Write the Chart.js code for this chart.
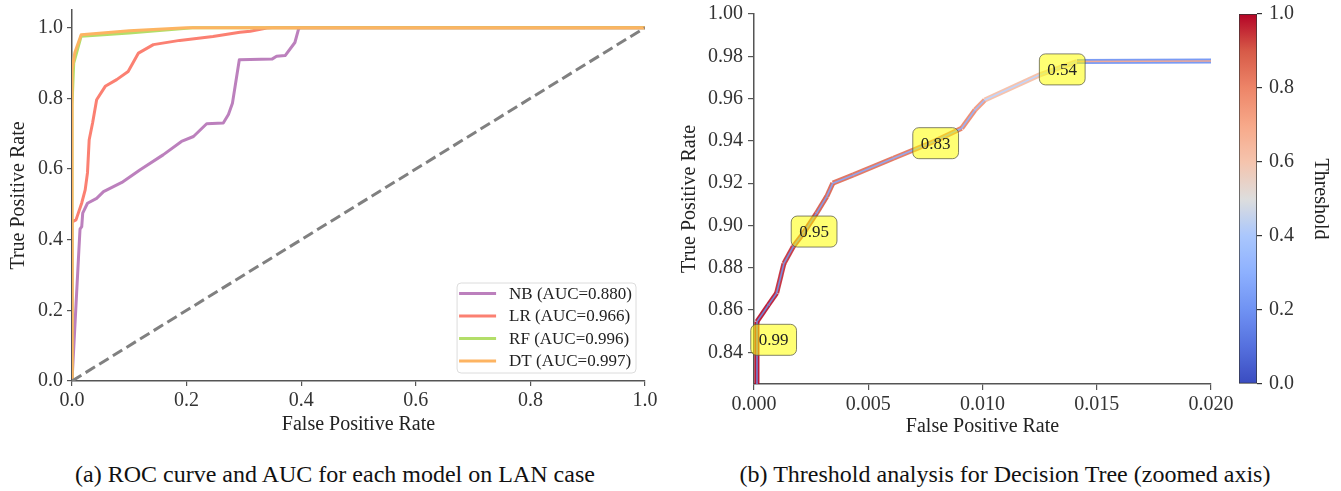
<!DOCTYPE html>
<html>
<head>
<meta charset="utf-8">
<script src="https://cdn.jsdelivr.net/npm/chart.js@4.4.1/dist/chart.umd.min.js"></script>
<style>
  html, body { margin:0; padding:0; background:#fff; }
  #wrap { position:relative; width:1341px; height:491px; overflow:hidden; background:#fff; }
  canvas { position:absolute; top:0; }
  .cap { position:absolute; top:461px; font-family:'Liberation Serif','DejaVu Serif',serif; font-size:24px; color:#111; white-space:nowrap; transform:translateX(-50%); }
</style>
</head>
<body>
<div id="wrap">
  <canvas id="roc" width="670" height="445" style="left:0px;width:670px;height:445px"></canvas>
  <canvas id="thr" width="575" height="445" style="left:670px;width:575px;height:445px"></canvas>
  <canvas id="cb" width="111" height="445" style="left:1230px;width:111px;height:445px"></canvas>
  <div class="cap" id="capA" style="left:335px"></div>
  <div class="cap" id="capB" style="left:1005px"></div>
</div>
<script>
// ---------------- DATA ----------------
const modelNames = ['NB', 'LR', 'RF', 'DT'];
const aucValues = [0.880, 0.966, 0.996, 0.997];

const nbFpr = [0, 0.012, 0.014, 0.017, 0.0187, 0.027, 0.043, 0.055, 0.087, 0.119, 0.159, 0.191, 0.212, 0.235, 0.264, 0.273, 0.280, 0.292, 0.349, 0.357, 0.372, 0.389, 0.395, 0.397, 1.0];
const nbTpr = [0, 0.37, 0.43, 0.437, 0.475, 0.503, 0.517, 0.536, 0.562, 0.598, 0.640, 0.678, 0.692, 0.728, 0.730, 0.754, 0.786, 0.909, 0.911, 0.919, 0.921, 0.958, 0.994, 1.0, 1.0];

const lrFpr = [0, 0, 0.007, 0.017, 0.023, 0.027, 0.030, 0.036, 0.043, 0.058, 0.078, 0.098, 0.116, 0.142, 0.188, 0.246, 0.293, 0.311, 0.340, 0.350, 1.0];
const lrTpr = [0, 0.45, 0.456, 0.504, 0.541, 0.589, 0.683, 0.731, 0.796, 0.834, 0.853, 0.876, 0.928, 0.952, 0.964, 0.975, 0.987, 0.990, 0.999, 1.0, 1.0];

const rfFpr = [0, 0, 0.003, 0.016, 0.100, 0.200, 0.210, 1.0];
const rfTpr = [0, 0.78, 0.90, 0.976, 0.985, 0.998, 1.0, 1.0];

const dtFpr = [0, 0, 0.005, 0.016, 0.100, 0.200, 1.0];
const dtTpr = [0, 0.88, 0.93, 0.980, 0.991, 1.0, 1.0];

const chanceFpr = [0, 1];
const chanceTpr = [0, 1];

const rocXTicks = [0, 0.2, 0.4, 0.6, 0.8, 1.0];
const rocYTicks = [0, 0.2, 0.4, 0.6, 0.8, 1.0];

// Decision tree threshold analysis (zoomed)
const dtzFpr = [0.00013, 0.00013, 0.00063, 0.00099, 0.00131, 0.00172, 0.00216, 0.00274, 0.00318, 0.00345, 0.00435, 0.0061, 0.00785, 0.00909, 0.00967, 0.0101, 0.0125, 0.01413, 0.021];
const dtzTpr = [0.80, 0.8545, 0.8624, 0.8680, 0.8820, 0.8900, 0.8963, 0.9058, 0.9136, 0.9200, 0.9239, 0.9318, 0.9396, 0.9460, 0.9546, 0.9593, 0.9712, 0.9775, 0.9778];
const dtzThr = [1.00, 0.99, 0.98, 0.96, 0.95, 0.94, 0.93, 0.90, 0.88, 0.86, 0.85, 0.84, 0.83, 0.80, 0.75, 0.62, 0.58, 0.20, 0.20];

const annFpr = [0.00086, 0.00263, 0.00795, 0.01349];
const annTpr = [0.8459, 0.8971, 0.9389, 0.9738];
const annLabel = ['0.99', '0.95', '0.83', '0.54'];

const thrXTicks = [0, 0.005, 0.010, 0.015, 0.020];
const thrYTicks = [0.84, 0.86, 0.88, 0.90, 0.92, 0.94, 0.96, 0.98, 1.00];
const cbTicks = [0, 0.2, 0.4, 0.6, 0.8, 1.0];

const captionA = '(a) ROC curve and AUC for each model on LAN case';
const captionB = '(b) Threshold analysis for Decision Tree (zoomed axis)';

// ---------------- STYLE ----------------
const FONT = "'Liberation Serif','DejaVu Serif',serif";
const modelColors = ['#bc80bd', '#fb8072', '#b3de69', '#fdb462'];
const AXIS = '#555';
const TXT = '#333';

const cwStops = [
  [0.0, [58, 76, 192]], [0.1, [85, 112, 222]], [0.2, [111, 146, 243]], [0.3, [141, 176, 254]],
  [0.4, [170, 199, 253]], [0.5, [221, 221, 221]], [0.6, [245, 196, 173]], [0.7, [247, 168, 137]],
  [0.8, [237, 133, 104]], [0.9, [215, 90, 72]], [1.0, [180, 4, 38]]
];
function cwRGB(t) {
  t = Math.max(0, Math.min(1, t));
  let i = 0;
  while (i < cwStops.length - 2 && t > cwStops[i + 1][0]) i++;
  const [t0, c0] = cwStops[i], [t1, c1] = cwStops[i + 1];
  const f = (t - t0) / (t1 - t0);
  return c0.map((v, k) => v + (c1[k] - v) * f);
}
function coolwarm(t, a) {
  const c = cwRGB(t).map(Math.round);
  return `rgba(${c[0]},${c[1]},${c[2]},${a === undefined ? 1 : a})`;
}
function mixWhite(t, w) {
  const c = cwRGB(t).map(v => Math.round(v * (1 - w) + 255 * w));
  return `rgb(${c[0]},${c[1]},${c[2]})`;
}

const zip = (xs, ys) => xs.map((x, i) => ({ x: x, y: ys[i] }));

function axisCommon(extra) {
  return Object.assign({
    type: 'linear',
    grid: { display: true, drawOnChartArea: false, drawTicks: true, tickLength: 5, color: AXIS, lineWidth: 1.2 },
    border: { display: true, color: AXIS, width: 1.5 },
  }, extra);
}

document.getElementById('capA').textContent = captionA;
document.getElementById('capB').textContent = captionB;

// ---------------- LEFT: ROC ----------------
const modelSeries = [[nbFpr, nbTpr], [lrFpr, lrTpr], [rfFpr, rfTpr], [dtFpr, dtTpr]];
const rocDatasets = modelSeries.map((s, i) => ({
  label: `${modelNames[i]} (AUC=${aucValues[i].toFixed(3)})`,
  data: zip(s[0], s[1]),
  borderColor: modelColors[i],
  borderWidth: 3,
  pointRadius: 0,
  tension: 0,
  borderJoinStyle: 'round',
  clip: 0,
  order: 10 - i,
  isModel: true
}));
rocDatasets.push({
  label: 'chance',
  data: zip(chanceFpr, chanceTpr),
  borderColor: '#808080',
  borderWidth: 3,
  borderDash: [11, 5],
  pointRadius: 0,
  clip: 0,
  order: 1,
  isModel: false
});

const legendPlugin = {
  id: 'insideLegend',
  afterDraw(chart) {
    const ctx = chart.ctx, area = chart.chartArea;
    const items = chart.data.datasets.filter(d => d.isModel);
    ctx.save();
    ctx.font = `17px ${FONT}`;
    const maxW = Math.max(...items.map(d => ctx.measureText(d.label).width));
    const w = 52 + maxW + 4, h = 90;
    const x0 = area.right - 9 - w, y0 = area.bottom - 8 - h;
    ctx.beginPath();
    ctx.roundRect(x0, y0, w, h, 4);
    ctx.fillStyle = 'rgba(255,255,255,0.85)';
    ctx.fill();
    ctx.strokeStyle = '#dcdcdc';
    ctx.lineWidth = 1;
    ctx.stroke();
    items.forEach((d, i) => {
      const yy = y0 + 10.5 + i * 22.5;
      ctx.beginPath();
      ctx.moveTo(x0 + 2, yy);
      ctx.lineTo(x0 + 39, yy);
      ctx.strokeStyle = d.borderColor;
      ctx.lineWidth = 3;
      ctx.stroke();
      ctx.fillStyle = '#222';
      ctx.textBaseline = 'middle';
      ctx.textAlign = 'left';
      ctx.fillText(d.label, x0 + 52, yy + 1);
    });
    ctx.restore();
  }
};

new Chart(document.getElementById('roc'), {
  type: 'line',
  data: { datasets: rocDatasets },
  plugins: [legendPlugin],
  options: {
    responsive: false, animation: false,
    layout: { padding: { left: 0, right: 25, top: 10, bottom: 8 } },
    plugins: { legend: { display: false }, tooltip: { enabled: false } },
    scales: {
      x: axisCommon({
        min: 0, max: 1, z: 1,
        afterBuildTicks: s => { s.ticks = rocXTicks.map(v => ({ value: v })); },
        afterFit: s => { s.height = 56; s.paddingLeft = 0; s.paddingRight = 0; },
        ticks: { callback: v => Number(v).toFixed(1), font: { family: FONT, size: 20 }, color: TXT, padding: 3, maxRotation: 0, autoSkip: false },
        title: { display: true, text: 'False Positive Rate', font: { family: FONT, size: 20 }, color: '#222', padding: { top: 0, bottom: 0 } }
      }),
      y: axisCommon({
        min: 0, max: 1.05, z: 1,
        afterBuildTicks: s => { s.ticks = rocYTicks.map(v => ({ value: v })); },
        afterFit: s => { s.width = 72; s.paddingTop = 0; s.paddingBottom = 0; },
        ticks: { callback: v => Number(v).toFixed(1), font: { family: FONT, size: 20 }, color: TXT, padding: 4, autoSkip: false },
        title: { display: true, text: 'True Positive Rate', font: { family: FONT, size: 20 }, color: '#222', padding: { top: 7, bottom: 0 } }
      })
    }
  }
});

// ---------------- RIGHT: threshold analysis ----------------
const annPlugin = {
  id: 'annBoxes',
  afterDatasetsDraw(chart) {
    const ctx = chart.ctx, xs = chart.scales.x, ys = chart.scales.y;
    ctx.save();
    ctx.font = `17px ${FONT}`;
    annLabel.forEach((lab, i) => {
      const cx = xs.getPixelForValue(annFpr[i]);
      const cy = ys.getPixelForValue(annTpr[i]);
      const tw = ctx.measureText(lab).width;
      const w = tw + 16, h = 31;
      ctx.beginPath();
      ctx.roundRect(cx - w / 2, cy - h / 2, w, h, 6);
      ctx.fillStyle = 'rgba(255,255,0,0.55)';
      ctx.fill();
      ctx.strokeStyle = 'rgba(90,90,70,0.75)';
      ctx.lineWidth = 1;
      ctx.stroke();
      ctx.fillStyle = '#222';
      ctx.textAlign = 'center';
      ctx.textBaseline = 'middle';
      ctx.fillText(lab, cx, cy + 1);
    });
    ctx.restore();
  }
};

new Chart(document.getElementById('thr'), {
  type: 'line',
  data: {
    datasets: [
      {
        label: 'DT threshold',
        data: zip(dtzFpr, dtzTpr),
        borderWidth: 5,
        borderColor: coolwarm(1),
        segment: { borderColor: c => coolwarm(dtzThr[c.p0DataIndex], 0.92) },
        pointRadius: 0, tension: 0, borderJoinStyle: 'round', clip: 0,
        order: 2
      },
      {
        label: 'DT curve',
        data: zip(dtzFpr, dtzTpr),
        borderWidth: 1.6,
        borderColor: '#a58bd6',
        segment: { borderColor: c => mixWhite(1 - dtzThr[c.p0DataIndex], 0.3) },
        pointRadius: 0, tension: 0, borderJoinStyle: 'round', clip: 0,
        order: 1
      }
    ]
  },
  plugins: [annPlugin],
  options: {
    responsive: false, animation: false,
    layout: { padding: { left: 0, right: 34, top: 14, bottom: 5 } },
    plugins: { legend: { display: false }, tooltip: { enabled: false } },
    scales: {
      x: axisCommon({
        min: 0, max: 0.02, z: 1,
        afterBuildTicks: s => { s.ticks = thrXTicks.map(v => ({ value: v })); },
        afterFit: s => { s.height = 56; s.paddingLeft = 0; s.paddingRight = 0; },
        grid: { display: true, drawOnChartArea: false, drawTicks: true, tickLength: 6, color: AXIS, lineWidth: 1.2 },
        ticks: { callback: v => Number(v).toFixed(3), font: { family: FONT, size: 20 }, color: TXT, padding: 3, maxRotation: 0, autoSkip: false },
        title: { display: true, text: 'False Positive Rate', font: { family: FONT, size: 20 }, color: '#222', padding: { top: 0, bottom: 1 } }
      }),
      y: axisCommon({
        min: 0.825, max: 1.0, z: 1,
        afterBuildTicks: s => { s.ticks = thrYTicks.map(v => ({ value: v })); },
        afterFit: s => { s.width = 84; s.paddingTop = 0; s.paddingBottom = 0; },
        grid: { display: true, drawOnChartArea: false, drawTicks: true, tickLength: 6, color: AXIS, lineWidth: 1.2 },
        ticks: { callback: v => Number(v).toFixed(2), font: { family: FONT, size: 20 }, color: TXT, padding: 5, autoSkip: false },
        title: { display: true, text: 'True Positive Rate', font: { family: FONT, size: 20 }, color: '#222', padding: { top: 8, bottom: 0 } }
      })
    }
  }
});

// ---------------- COLORBAR ----------------
new Chart(document.getElementById('cb'), {
  type: 'bar',
  data: {
    labels: ['Threshold'],
    datasets: [{
      data: [[0, 1]],
      backgroundColor: c => {
        const area = c.chart.chartArea;
        if (!area) return coolwarm(0.5);
        const g = c.chart.ctx.createLinearGradient(0, area.bottom, 0, area.top);
        for (let k = 0; k <= 50; k++) g.addColorStop(k / 50, coolwarm(k / 50));
        return g;
      },
      borderColor: '#333',
      borderWidth: 1,
      borderSkipped: false,
      barPercentage: 1,
      categoryPercentage: 1
    }]
  },
  options: {
    responsive: false, animation: false,
    layout: { padding: { left: 9, right: 0, top: 14, bottom: 61 } },
    plugins: { legend: { display: false }, tooltip: { enabled: false } },
    scales: {
      x: { display: false },
      y: {
        type: 'linear', position: 'right', min: 0, max: 1,
        afterBuildTicks: s => { s.ticks = cbTicks.map(v => ({ value: v })); },
        afterFit: s => { s.width = 84; s.paddingTop = 0; s.paddingBottom = 0; },
        grid: { display: true, drawOnChartArea: false, drawTicks: true, tickLength: 5, color: '#333', lineWidth: 1.2 },
        border: { display: false },
        ticks: { callback: v => Number(v).toFixed(1), font: { family: FONT, size: 20 }, color: TXT, padding: 7, autoSkip: false },
        title: { display: true, text: 'Threshold', font: { family: FONT, size: 20 }, color: '#222', padding: { top: 9, bottom: 0 } }
      }
    }
  }
});
</script>
</body>
</html>
